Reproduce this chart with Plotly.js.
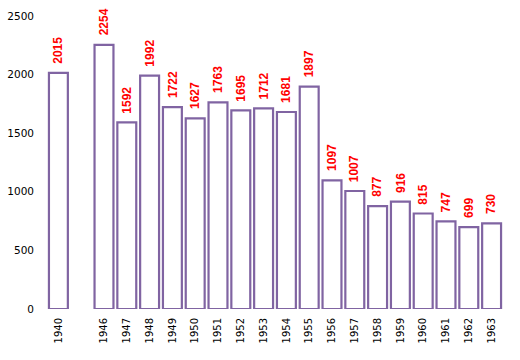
<!DOCTYPE html>
<html><head><meta charset="utf-8">
<script src="https://cdn.plot.ly/plotly-3.0.1.min.js"></script>
<style>body{margin:0;background:#fff}#c{width:520px;height:360px}</style>
</head><body><div id="c"></div>
<script>
var categories = ["1940"," ","1946","1947","1948","1949","1950","1951","1952","1953","1954","1955","1956","1957","1958","1959","1960","1961","1962","1963"];
var values = [2015,null,2254,1592,1992,1722,1627,1763,1695,1712,1681,1897,1097,1007,877,916,815,747,699,730];
var yTicks = [0,500,1000,1500,2000,2500];

var annotations = [];
categories.forEach(function(c,i){
  if(values[i]===null) return;
  annotations.push({x:i, y:values[i], xref:"x", yref:"y", text:String(values[i]),
    textangle:-90, showarrow:false, yanchor:"bottom", xanchor:"center", yshift:7,
    font:{family:"Liberation Sans", size:12, color:"#ff0000", weight:"bold"}});
});

Plotly.newPlot("c",[{
  type:"bar", x:categories, y:values,
  marker:{color:"#ffffff", line:{color:"#8064a2", width:2.2}},
  hoverinfo:"none"
}],{
  width:520, height:360,
  margin:{l:47, r:17, t:16, b:51},
  paper_bgcolor:"#fff", plot_bgcolor:"#fff",
  bargap:0.17, showlegend:false, annotations:annotations,
  xaxis:{type:"category", categoryorder:"array", categoryarray:categories,
    range:[-0.5, categories.length-0.5],
    tickangle:-90, tickfont:{family:"DejaVu Sans", size:10, color:"#000"},
    showgrid:false, zeroline:false, showline:false, ticks:"", ticklabelstandoff:6},
  yaxis:{range:[0,2500], tickvals:yTicks, ticktext:yTicks.map(String),
    tickfont:{family:"DejaVu Sans", size:10.5, color:"#000"},
    showgrid:false, zeroline:false, showline:false, ticks:"", ticklabelstandoff:12}
},{staticPlot:true});
</script></body></html>
